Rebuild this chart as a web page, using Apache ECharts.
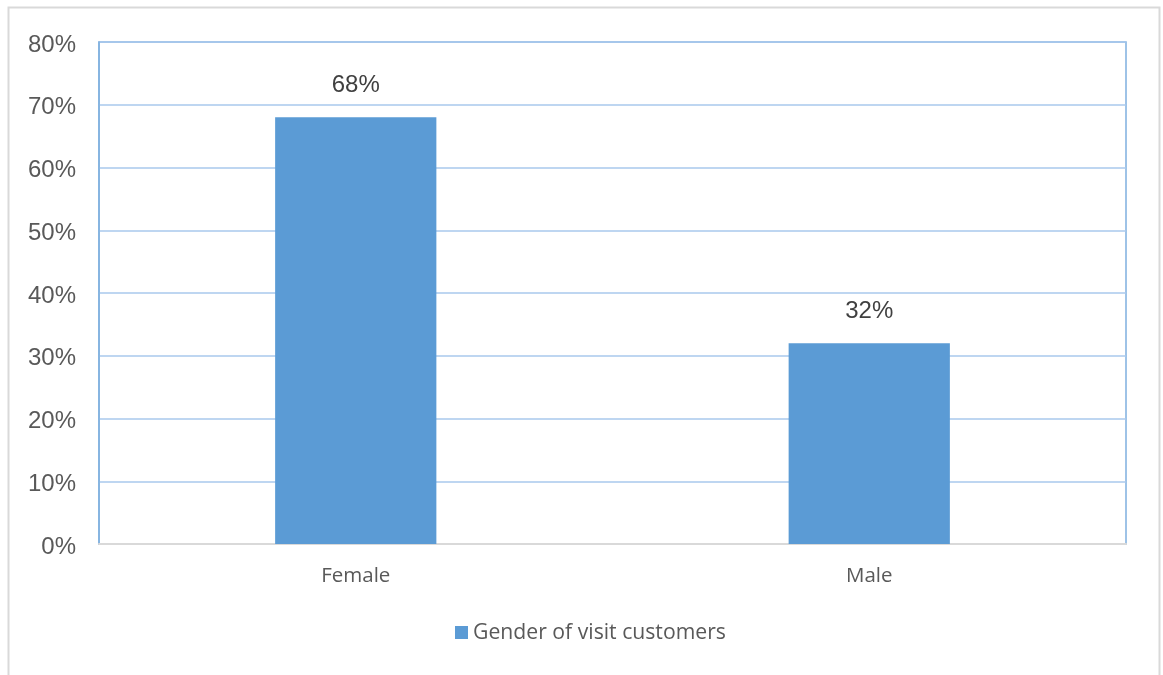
<!DOCTYPE html>
<html>
<head>
<meta charset="utf-8">
<style>
  html, body { margin: 0; padding: 0; background: #ffffff; }
  #chart { width: 1163px; height: 675px; }
</style>
<script src="https://cdn.jsdelivr.net/npm/echarts@6/dist/echarts.min.js"></script>
</head>
<body>
<div id="chart"></div>
<script>
// Share of visiting customers by gender (percent)
const categories = ['Female', 'Male'];
const genderShare = [68, 32];
const seriesName = 'Gender of visit customers';
const yTicks = [0, 10, 20, 30, 40, 50, 60, 70, 80];

const chart = echarts.init(document.getElementById('chart'), null, { renderer: 'canvas' });

chart.setOption({
  animation: false,
  backgroundColor: '#ffffff',
  graphic: [{
    type: 'rect',
    shape: { x: 8.5, y: 7.5, width: 1151, height: 680 },
    style: { fill: 'none', stroke: '#d9d9d9', lineWidth: 2 },
    silent: true
  }],
  grid: {
    left: 99, right: 37, top: 42, bottom: 131,
    show: true,
    borderColor: '#7fb0df',
    borderWidth: 1.5,
    backgroundColor: 'transparent'
  },
  legend: {
    data: [seriesName],
    left: 455,
    top: 622,
    padding: 0,
    itemWidth: 13,
    itemHeight: 13,
    itemGap: 6,
    icon: 'rect',
    textStyle: { fontFamily: 'Open Sans', fontSize: 21.2, color: '#595959' }
  },
  xAxis: {
    type: 'category',
    data: categories,
    axisLine: { show: true, lineStyle: { color: '#d9d9d9', width: 2 } },
    axisTick: { show: false },
    axisLabel: {
      margin: 22,
      fontFamily: 'Open Sans',
      fontSize: 20.5,
      color: '#595959'
    }
  },
  yAxis: {
    type: 'value',
    min: yTicks[0],
    max: yTicks[yTicks.length - 1],
    interval: 10,
    axisLine: { show: true, lineStyle: { color: '#7fb0df', width: 1.5 } },
    axisTick: { show: false },
    splitLine: { show: true, lineStyle: { color: '#a9c9ec', width: 1.5 } },
    axisLabel: {
      margin: 23,
      fontFamily: 'Liberation Sans',
      fontSize: 24,
      color: '#595959',
      verticalAlign: 'top',
      lineHeight: 6,
      formatter: v => v + '%'
    }
  },
  series: [{
    name: seriesName,
    type: 'bar',
    data: genderShare,
    barWidth: '31.4%',
    itemStyle: { color: '#5b9bd5' },
    label: {
      show: true,
      position: 'top',
      distance: 20,
      fontFamily: 'Liberation Sans',
      fontSize: 24,
      color: '#404040',
      formatter: p => p.value + '%'
    }
  }]
});
</script>
</body>
</html>
